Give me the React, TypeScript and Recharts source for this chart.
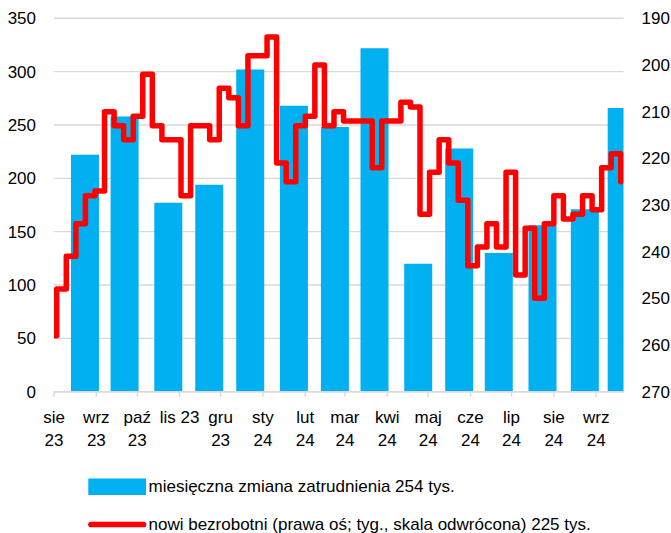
import React from "react";
import {
  ComposedChart,
  Bar,
  Line,
  XAxis,
  YAxis,
  CartesianGrid,
  Legend,
} from "recharts";

// ---------- data ----------
const axisStart = "2023-08-01";
const axisEnd = "2024-09-21";

const monthTickDates = [
  "2023-08-01", "2023-09-01", "2023-10-01", "2023-11-01", "2023-12-01",
  "2024-01-01", "2024-02-01", "2024-03-01", "2024-04-01", "2024-05-01",
  "2024-06-01", "2024-07-01", "2024-08-01", "2024-09-01",
];
const monthTickLabels: string[][] = [
  ["sie", "23"], ["wrz", "23"], ["paź", "23"], ["lis 23"], ["gru", "23"],
  ["sty", "24"], ["lut", "24"], ["mar", "24"], ["kwi", "24"], ["maj", "24"],
  ["cze", "24"], ["lip", "24"], ["sie", "24"], ["wrz", "24"],
];

const barDates = [
  "2023-08-24", "2023-09-22", "2023-10-24", "2023-11-23", "2023-12-23",
  "2024-01-24", "2024-02-23", "2024-03-23", "2024-04-24", "2024-05-24",
  "2024-06-22", "2024-07-24", "2024-08-24", "2024-09-20",
];
const employmentChange = [222, 258, 177, 194, 302, 268, 248, 322, 120, 228, 130, 156, 171, 266];

// weekly initial claims (thousands), held from each Thursday release
const claimsFirstWeek = "2023-07-27";
const claimsValues = [
  258,
  248, 241, 234, 228, 227, 210, 213, 216, 211, 202,
  213, 216, 216, 228, 213, 213, 216, 205, 207, 213,
  198, 198, 194, 221, 225, 213, 211, 200, 213, 210,
  212, 212, 212, 222, 212, 212, 208, 209, 232, 223,
  216, 221, 229, 243, 239, 234, 239, 223, 245, 235,
  250, 234, 228, 233, 232, 228, 231, 222, 219, 225,
];

const leftTicks = [0, 50, 100, 150, 200, 250, 300, 350];
const rightTicks = [190, 200, 210, 220, 230, 240, 250, 260, 270];

const barName = "miesięczna zmiana zatrudnienia 254 tys.";
const lineName = "nowi bezrobotni (prawa oś; tyg., skala odwrócona) 225 tys.";

// ---------- helpers ----------
const BAR_COLOR = "#00B0F0";
const LINE_COLOR = "#FF0000";
const GRID_COLOR = "#D9D9D9";
const FONT = "'Liberation Sans', Arial, sans-serif";
const FS = 17;

const dayOf = (s: string) =>
  (Date.parse(s + "T00:00:00Z") - Date.parse(axisStart + "T00:00:00Z")) / 86400000;

const monthTicks = monthTickDates.map(dayOf);
const domainX: [number, number] = [0, dayOf(axisEnd)];

const barData = barDates.map((d, i) => ({ t: dayOf(d), emp: employmentChange[i] }));
const claimsData = claimsValues.map((v, i) => ({ t: dayOf(claimsFirstWeek) + 7 * i, claims: v }));

const MonthTick = (props: any) => {
  const { x, y, payload } = props;
  const idx = monthTicks.indexOf(payload.value);
  const lines = idx >= 0 ? monthTickLabels[idx] : [];
  return (
    <g>
      {lines.map((ln, i) => (
        <text
          key={i}
          x={x}
          y={y + 24 + i * 23}
          textAnchor="middle"
          fontSize={FS}
          fontFamily={FONT}
          fill="#000"
        >
          {ln}
        </text>
      ))}
    </g>
  );
};

const LegendContent = () => (
  <svg width={671} height={70} style={{ display: "block" }}>
    <rect x={88.3} y={10.5} width={57.7} height={16.5} fill={BAR_COLOR} />
    <text x={148.5} y={24} fontSize={FS} fontFamily={FONT} fill="#000">
      {barName}
    </text>
    <line
      x1={91}
      x2={143.5}
      y1={56.5}
      y2={56.5}
      stroke={LINE_COLOR}
      strokeWidth={5.7}
      strokeLinecap="round"
    />
    <text x={148.5} y={62} fontSize={FS} fontFamily={FONT} fill="#000">
      {lineName}
    </text>
  </svg>
);

export default function App() {
  return (
    <div
      style={{
        position: "absolute",
        left: 0,
        top: 0,
        width: 671,
        height: 533,
        overflow: "hidden",
        background: "#fff",
        fontFamily: FONT,
      }}
    >
      <ComposedChart
        width={671}
        height={533}
        data={barData}
        margin={{ top: 18.3, right: 0, bottom: 11.3, left: 0 }}
      >
        <CartesianGrid
          xAxisId="m"
          yAxisId="left"
          vertical={false}
          stroke={GRID_COLOR}
          strokeWidth={1.4}
        />
        <XAxis
          xAxisId="m"
          type="number"
          dataKey="t"
          domain={domainX}
          allowDataOverflow
          ticks={monthTicks}
          interval={0}
          height={60}
          tick={<MonthTick />}
          tickSize={5}
          tickMargin={2}
          axisLine={{ stroke: GRID_COLOR, strokeWidth: 1.4 }}
          tickLine={{ stroke: GRID_COLOR, strokeWidth: 1.4 }}
        />
        <XAxis
          xAxisId="w"
          type="number"
          dataKey="t"
          domain={domainX}
          allowDataOverflow
          hide
        />
        <YAxis
          yAxisId="left"
          domain={[0, 350]}
          ticks={leftTicks}
          interval={0}
          width={54}
          axisLine={false}
          tickLine={false}
          tickSize={0}
          tickMargin={18}
          tick={{ fontSize: FS, fill: "#000", fontFamily: FONT }}
        />
        <YAxis
          yAxisId="right"
          orientation="right"
          reversed
          domain={[190, 270]}
          ticks={rightTicks}
          interval={0}
          width={47.5}
          axisLine={false}
          tickLine={false}
          tickSize={0}
          tickMargin={18}
          tick={{ fontSize: FS, fill: "#000", fontFamily: FONT }}
        />
        <Bar
          xAxisId="m"
          yAxisId="left"
          dataKey="emp"
          name={barName}
          fill={BAR_COLOR}
          barSize={28}
          isAnimationActive={false}
        />
        <Line
          xAxisId="w"
          yAxisId="right"
          data={claimsData}
          dataKey="claims"
          name={lineName}
          type="stepAfter"
          stroke={LINE_COLOR}
          strokeWidth={5.5}
          strokeLinejoin="round"
          strokeLinecap="round"
          dot={false}
          activeDot={false}
          isAnimationActive={false}
        />
        <Legend
          verticalAlign="bottom"
          align="left"
          layout="horizontal"
          height={70}
          wrapperStyle={{ top: 468, left: 0, bottom: "auto", width: 671 }}
          content={<LegendContent />}
        />
      </ComposedChart>
    </div>
  );
}
